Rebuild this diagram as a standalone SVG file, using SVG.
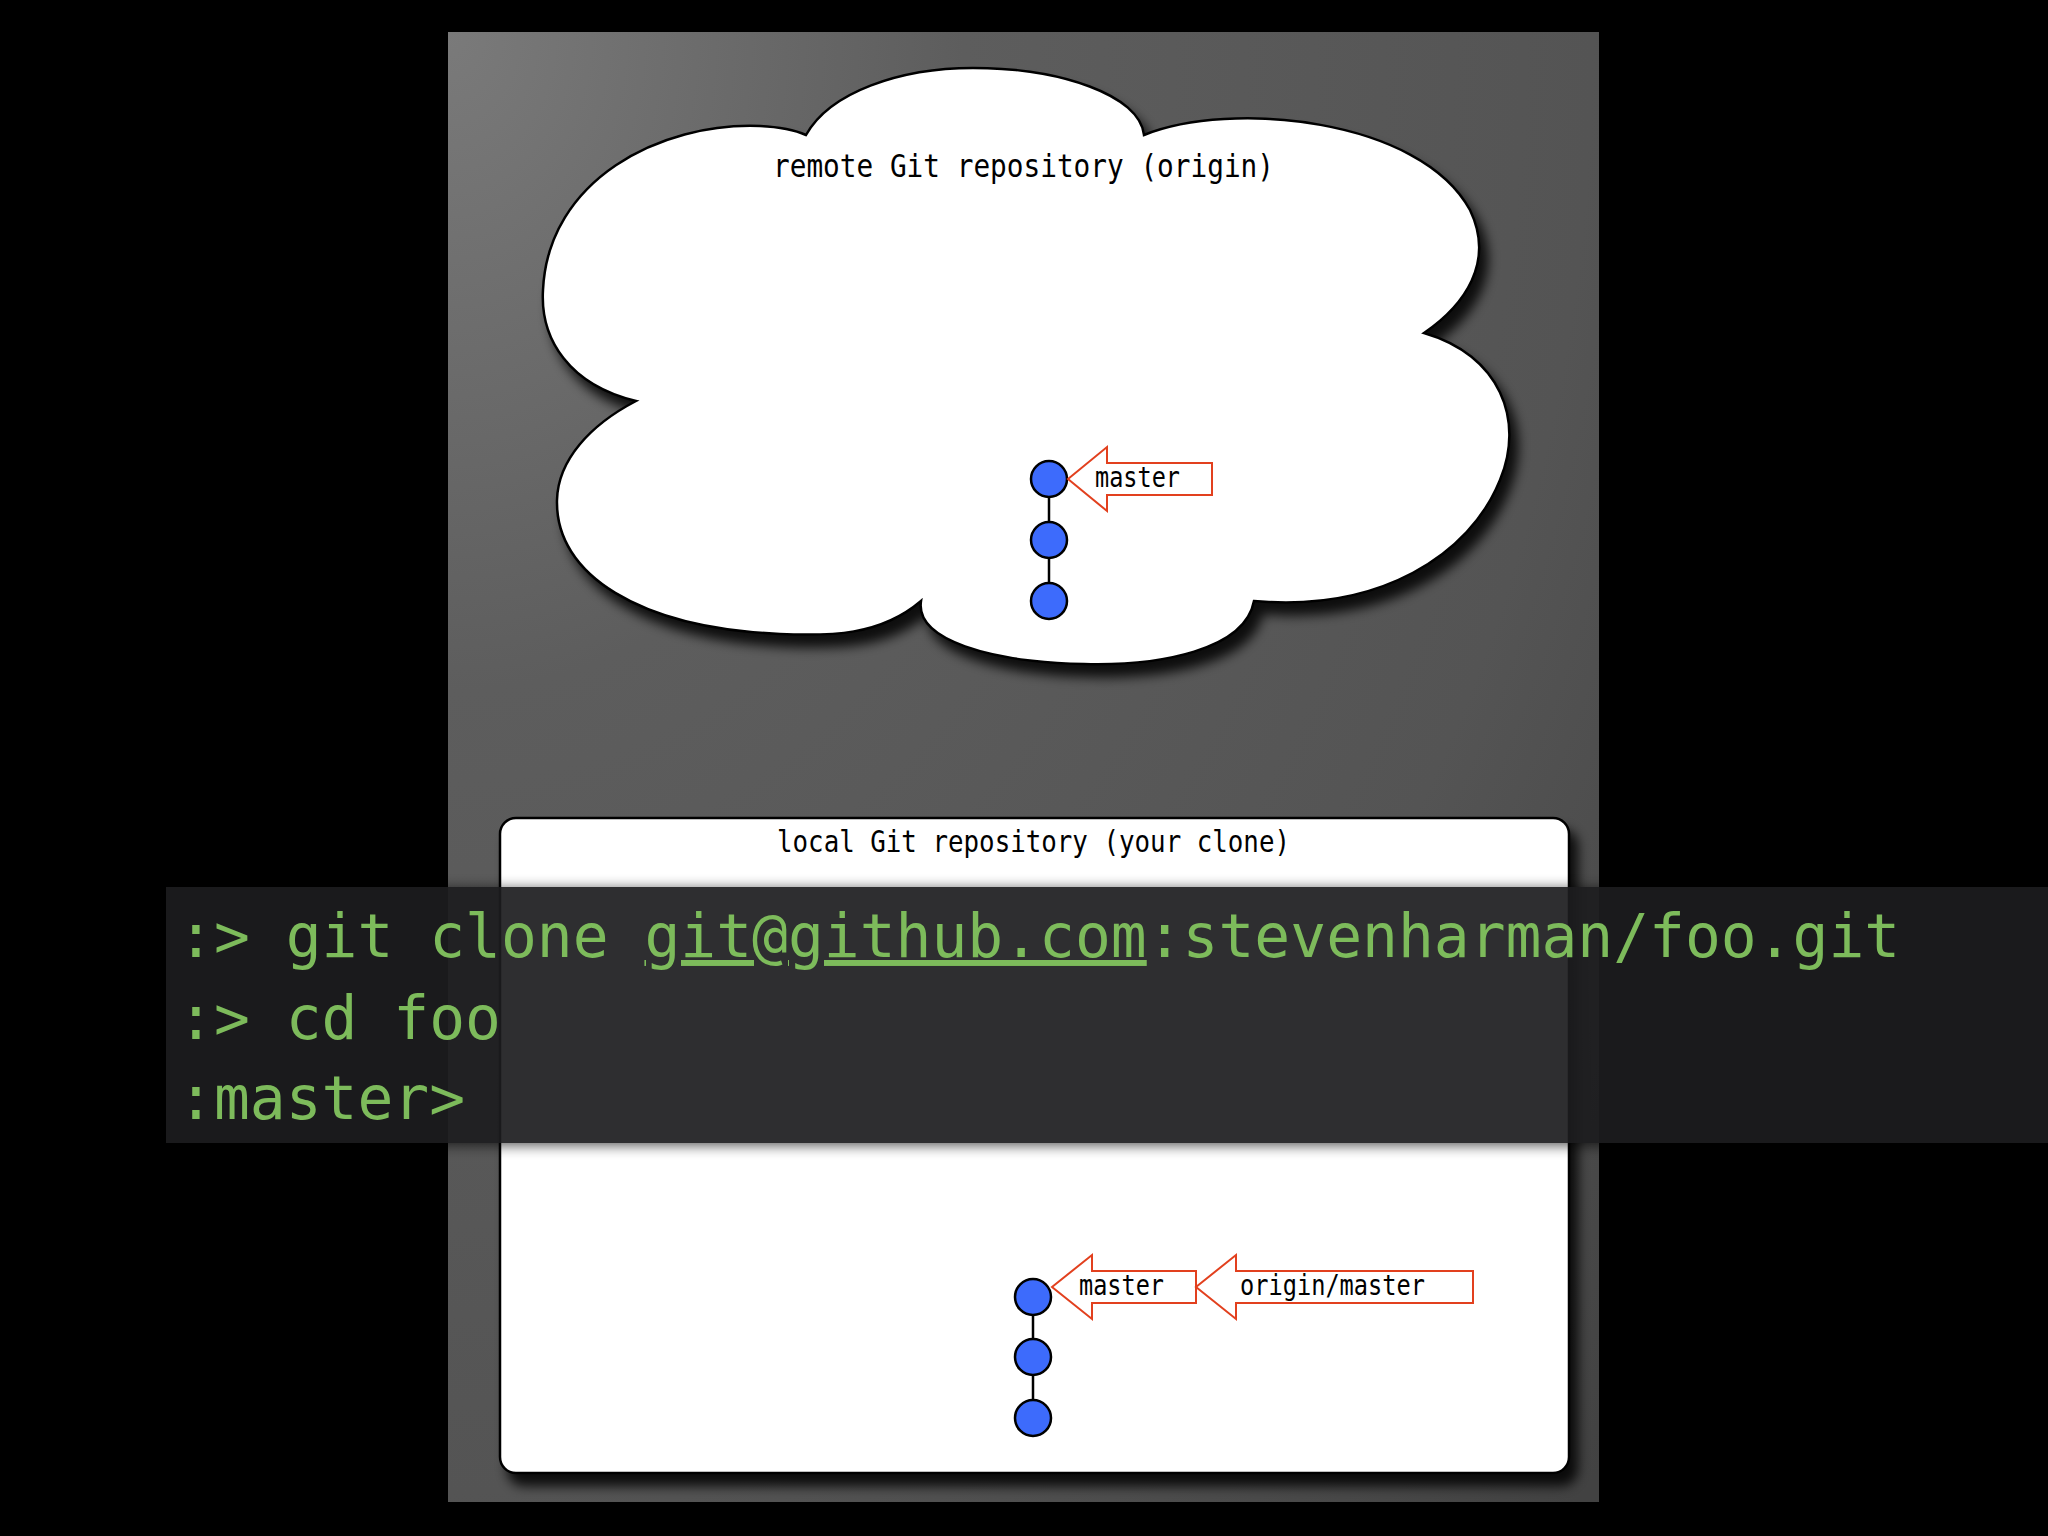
<svg xmlns="http://www.w3.org/2000/svg" width="2048" height="1536" viewBox="0 0 2048 1536">
  <defs>
    <radialGradient id="panelGrad" cx="0" cy="0" r="1.4" gradientUnits="objectBoundingBox">
      <stop offset="0" stop-color="#7a7a7a"/>
      <stop offset="0.32" stop-color="#5d5d5d"/>
      <stop offset="0.71" stop-color="#545454"/>
      <stop offset="1" stop-color="#424242"/>
    </radialGradient>
    <filter id="shadow" x="-10%" y="-10%" width="125%" height="125%">
      <feDropShadow dx="8" dy="12" stdDeviation="6" flood-color="#000" flood-opacity="0.85"/>
    </filter>
    <filter id="blur" x="-5%" y="-50%" width="110%" height="200%">
      <feGaussianBlur stdDeviation="7"/>
    </filter>
    <clipPath id="termShadowClip">
      <rect x="0" y="820" width="2048" height="67"/>
      <rect x="0" y="1143" width="2048" height="80"/>
    </clipPath>
    <style>
      .outline { fill: #ffffff; stroke: #000000; stroke-width: 2.5; }
      .label { font-family: "DejaVu Sans Mono", "Liberation Mono", monospace; fill: #000000; }
      .commit { fill: #3d6bfc; stroke: #000000; stroke-width: 2.5; }
      .link { stroke: #000000; stroke-width: 2.5; fill: none; }
      .ref { fill: #ffffff; stroke: #e2401e; stroke-width: 2; }
      .term { font-family: "DejaVu Sans Mono", "Liberation Mono", monospace; font-size: 59.6px; fill: #7dbb5b; }
    </style>
  </defs>

  <rect x="0" y="0" width="2048" height="1536" fill="#000000"/>
  <rect id="panel" x="448" y="32" width="1151" height="1470" fill="url(#panelGrad)"/>

  <g id="remote-repo">
    <path class="outline" filter="url(#shadow)" d="M 806,135 C 830,92 900,68 973,68 C 1060,68 1140,95 1144,135 C 1230,100 1420,118 1470,210 C 1495,262 1465,305 1424,333 C 1500,355 1525,420 1500,480 C 1470,555 1380,612 1254,601 C 1245,650 1160,666 1084,664 C 990,662 915,640 921,601 C 880,636 830,636 780,634 C 640,628 555,575 557,500 C 558,460 590,425 636,401 C 570,385 540,340 543,290 C 548,180 660,122 760,126 C 780,127 795,130 806,135 Z"/>
    <text class="label" x="773" y="177" font-size="32" textLength="501" lengthAdjust="spacingAndGlyphs">remote Git repository (origin)</text>
  </g>

  <g id="local-repo">
    <rect class="outline" filter="url(#shadow)" x="500" y="818" width="1069" height="655" rx="16" ry="16"/>
    <text class="label" x="777" y="852" font-size="31" textLength="513" lengthAdjust="spacingAndGlyphs">local Git repository (your clone)</text>
  </g>

  <g id="connectors">
    <line class="link" x1="1049" y1="479" x2="1049" y2="601"/>
    <line class="link" x1="1033" y1="1297" x2="1033" y2="1418"/>
  </g>

  <g id="remote-commit-1"><circle class="commit" cx="1049" cy="479" r="18"/></g>
  <g id="remote-commit-2"><circle class="commit" cx="1049" cy="540" r="18"/></g>
  <g id="remote-commit-3"><circle class="commit" cx="1049" cy="601" r="18"/></g>

  <g id="remote-master">
    <polygon class="ref" points="1068,479 1107,447 1107,463 1212,463 1212,495 1107,495 1107,511"/>
    <text class="label" x="1095" y="487" font-size="27.5" textLength="85" lengthAdjust="spacingAndGlyphs">master</text>
  </g>

  <g id="local-commit-1"><circle class="commit" cx="1033" cy="1297" r="18"/></g>
  <g id="local-commit-2"><circle class="commit" cx="1033" cy="1357" r="18"/></g>
  <g id="local-commit-3"><circle class="commit" cx="1033" cy="1418" r="18"/></g>

  <g id="local-master">
    <polygon class="ref" points="1052,1287 1092,1255 1092,1271 1196,1271 1196,1303 1092,1303 1092,1319"/>
    <text class="label" x="1079" y="1295" font-size="27.5" textLength="85" lengthAdjust="spacingAndGlyphs">master</text>
  </g>

  <g id="local-origin-master">
    <polygon class="ref" points="1196,1287 1236,1255 1236,1271 1473,1271 1473,1303 1236,1303 1236,1319"/>
    <text class="label" x="1240" y="1295" font-size="27.5" textLength="185" lengthAdjust="spacingAndGlyphs">origin/master</text>
  </g>

  <g id="terminal">
    <rect x="166" y="889" width="1882" height="256" fill="#000000" opacity="0.7" filter="url(#blur)" clip-path="url(#termShadowClip)"/>
    <rect x="166" y="887" width="1882" height="256" fill="#1c1c1e" opacity="0.92"/>
    <text class="term" x="178" y="957">:&gt; git clone <tspan text-decoration="underline">git@github.com</tspan>:stevenharman/foo.git</text>
    <text class="term" x="178" y="1039">:&gt; cd foo</text>
    <text class="term" x="178" y="1119">:master&gt;</text>
  </g>
</svg>
